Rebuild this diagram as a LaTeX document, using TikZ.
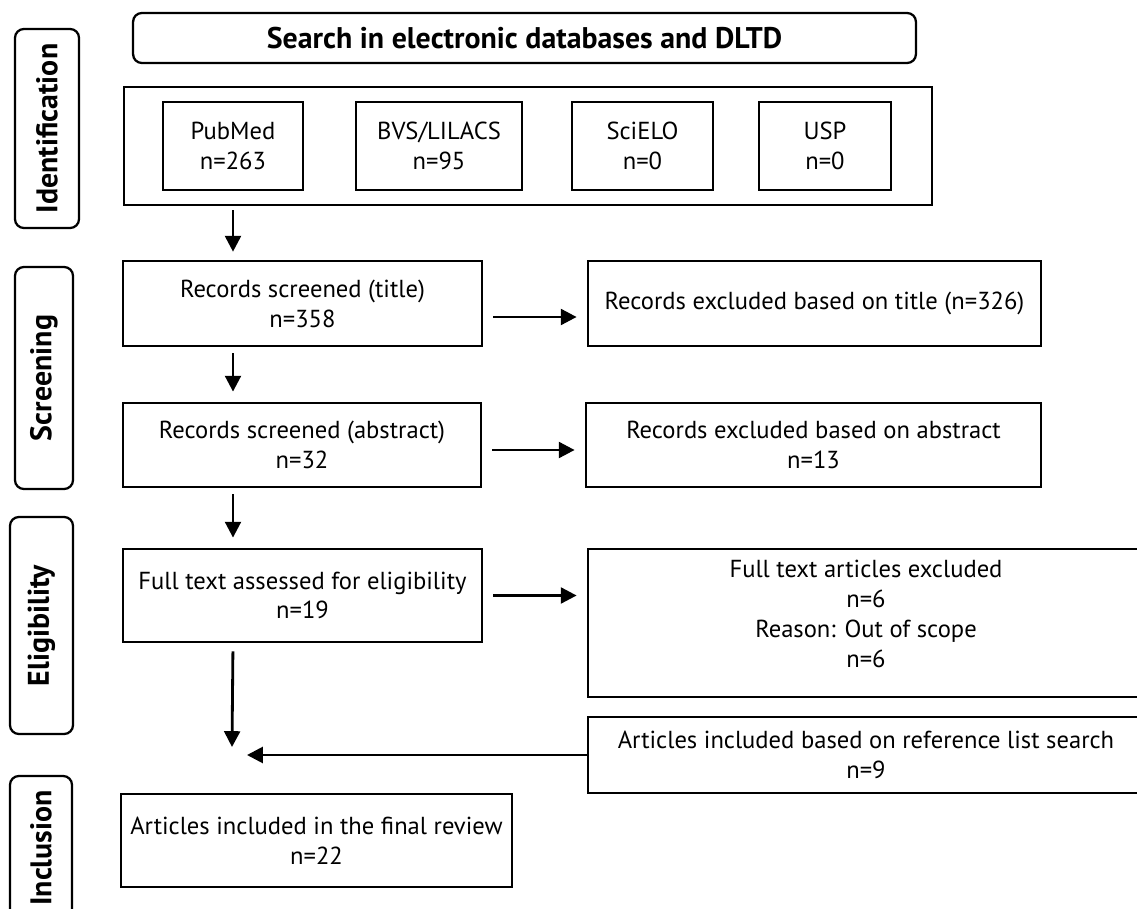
\documentclass[tikz,border=0pt]{standalone}
\usepackage{fontspec}
\setmainfont{PT Sans}
\usetikzlibrary{arrows.meta,positioning}

\begin{document}
\begin{tikzpicture}[x=0.02cm, y=-0.02cm, >={Triangle[length=9pt,width=9pt]},
  every node/.style={font=\fontsize{14}{17}\selectfont},
  box/.style={draw, line width=1.6pt, align=center, inner sep=0pt},
  stage/.style={draw, rounded corners=5pt, line width=1.3pt, rotate=90, inner sep=0pt, font=\fontsize{17}{20}\selectfont\bfseries},
  arr/.style={->, line width=1.6pt}]
\useasboundingbox (0,0) rectangle (1137,909);
\node[stage, minimum width=3.98cm, minimum height=1.28cm] (ident) at (47,128.5) {Identification};
\node[stage, minimum width=4.44cm, minimum height=1.16cm] (screen) at (44,378) {Screening};
\node[stage, minimum width=4.34cm, minimum height=1.26cm] (elig) at (41.5,625.5) {Eligibility};
\node[stage, minimum width=2.88cm, minimum height=1.24cm] (incl) at (41,848) {Inclusion};
\node[box, rounded corners=5pt, line width=1.3pt, minimum width=15.66cm, minimum height=1cm, font=\fontsize{17}{20}\selectfont\bfseries] (search) at (524.5,38) {Search in electronic databases and DLTD};
\node[box, minimum width=16.16cm, minimum height=2.36cm] (dbgroup) at (528,146) {};
\node[box, minimum width=2.8cm, minimum height=1.76cm] (pubmed) at (233,146) {PubMed\\n=263};
\node[box, minimum width=3.32cm, minimum height=1.76cm] (bvs) at (439,146) {BVS/LILACS\\n=95};
\node[box, minimum width=2.82cm, minimum height=1.76cm] (scielo) at (642.5,146) {SciELO\\n=0};
\node[box, minimum width=2.64cm, minimum height=1.76cm] (usp) at (825,146) {USP\\n=0};
\node[box, minimum width=7.18cm, minimum height=1.7cm] (title) at (302.5,303.5) {Records screened (title)\\n=358};
\node[box, minimum width=9.06cm, minimum height=1.7cm] (exctitle) at (814.5,303.5) {Records excluded based on title (n=326)};
\node[box, minimum width=7.16cm, minimum height=1.68cm] (abstract) at (302,445) {Records screened (abstract)\\n=32};
\node[box, minimum width=9.1cm, minimum height=1.68cm] (excabs) at (813.5,445) {Records excluded based on abstract\\n=13};
\node[box, minimum width=7.18cm, minimum height=1.86cm] (fulltext) at (302.5,595.5) {Full text assessed for eligibility\\n=19};
\node[box, minimum width=11.12cm, minimum height=2.96cm] (excfull) at (866,623) {};
\node[align=center] (excfulltext) at (866,614) {Full text articles excluded\\n=6\\Reason: Out of scope\\n=6};
\node[box, minimum width=11.12cm, minimum height=1.52cm] (reflist) at (866,755) {Articles included based on reference list search\\n=9};
\node[box, minimum width=7.82cm, minimum height=1.86cm] (final) at (316.5,840.5) {Articles included in the final review\\n=22};
\coordinate (mergetop) at (232,747);
\coordinate (mergeright) at (247,755);
\draw[arr, shorten <=2.3pt, shorten >=4.5pt] (dbgroup.south -| pubmed) -- (title.north -| pubmed);
\draw[arr, shorten <=3.4pt, shorten >=5.7pt] (title.south -| pubmed) -- (abstract.north -| pubmed);
\draw[arr, shorten <=3.4pt, shorten >=5.7pt] (abstract.south -| pubmed) -- (fulltext.north -| pubmed);
\draw[arr, shorten <=4.5pt] (fulltext.south -| pubmed) -- (mergetop);
\draw[arr, shorten <=5.7pt, shorten >=5.7pt] ([yshift=-0.27cm]title.east) -- ([yshift=-0.27cm]exctitle.west);
\draw[arr, shorten <=5.7pt, shorten >=5.7pt] ([yshift=-0.1cm]abstract.east) -- ([yshift=-0.1cm]excabs.west);
\draw[arr, shorten <=5.7pt, shorten >=5.7pt] (fulltext.east) -- (fulltext.east -| excfull.west);
\draw[arr] (reflist.west) -- (mergeright);
\end{tikzpicture}
\end{document}
